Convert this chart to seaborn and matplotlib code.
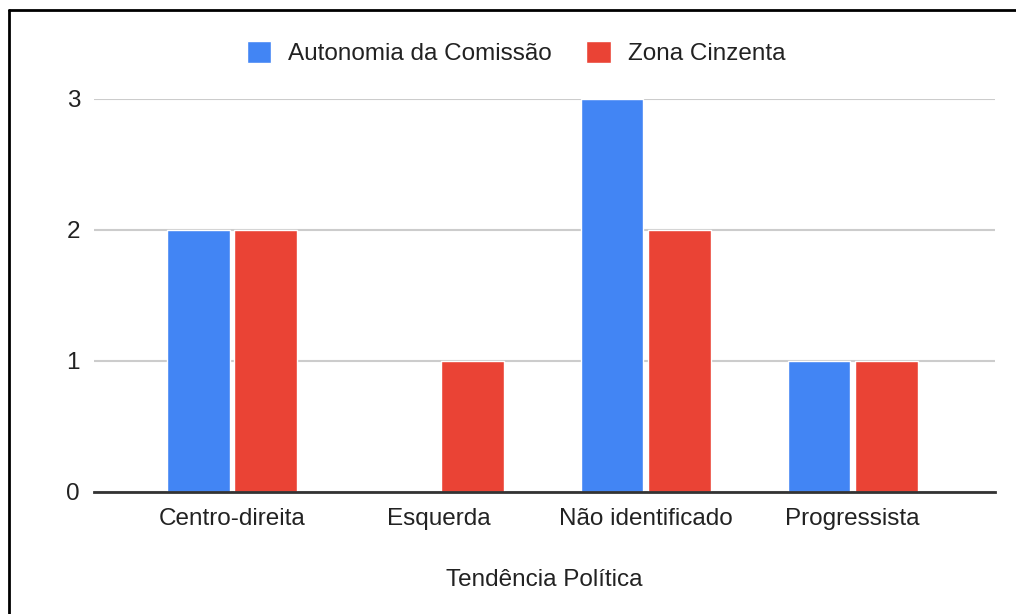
import pandas as pd
import numpy as np
import matplotlib.pyplot as plt
import seaborn as sns
from matplotlib.lines import Line2D

# donnees
categories = ["Centro-direita", "Esquerda", "Não identificado", "Progressista"]
autonomia = [2, 0, 3, 1]
zona = [2, 1, 2, 1]
series = ["Autonomia da Comissão", "Zona Cinzenta"]
yticks = [0, 1, 2, 3]

df = pd.DataFrame({
    "categoria": categories * 2,
    "valor": autonomia + zona,
    "serie": [series[0]] * len(categories) + [series[1]] * len(categories),
})

sns.set_theme(style="white")
plt.rcParams["font.family"] = ["Liberation Sans", "DejaVu Sans"]

fs = 17.5
fig = plt.figure(figsize=(10.16, 6.14), dpi=100)
ax = fig.add_axes([0.0925, 0.1987, 0.8865, 0.6401])

sns.barplot(data=df, x="categoria", y="valor", hue="serie",
            palette=["#4285F4", "#EA4335"], width=0.65, gap=0.07,
            saturation=1, ax=ax, zorder=3)

ax.set_ylim(0, 3)
ax.set_xlim(-0.667, 3.686)
ax.set_yticks(yticks)
ax.set_yticklabels([str(v) for v in yticks], fontsize=fs, color="#222222")
ax.tick_params(axis="x", labelsize=fs, colors="#222222", length=0, pad=11.5)
ax.tick_params(axis="y", length=0, pad=10)
ax.grid(axis="y", color="#cccccc", linewidth=1.5, zorder=0)
ax.set_axisbelow(True)
for s in ["top", "right", "left"]:
    ax.spines[s].set_visible(False)
ax.spines["bottom"].set_color("#333333")
ax.spines["bottom"].set_linewidth(2)
ax.spines["bottom"].set_zorder(4)

ax.set_xlabel("Tendência Política", fontsize=fs, color="#222222", labelpad=28)
ax.set_ylabel("")

leg = ax.legend(loc="center", bbox_to_anchor=(0.508, 1 - 53 / 614), bbox_transform=fig.transFigure,
                ncol=2, frameon=False, fontsize=fs, handlelength=1.0, handleheight=1.0,
                handletextpad=0.7, columnspacing=1.4)
for t in leg.get_texts():
    t.set_color("#222222")

# cadre noir autour de la figure
fig.add_artist(Line2D([0.0089, 1.0], [0.984, 0.984], color="black", linewidth=2, transform=fig.transFigure))
fig.add_artist(Line2D([0.0089, 0.0089], [0.0, 0.984], color="black", linewidth=2, transform=fig.transFigure))

fig.savefig("out.png", dpi=100)
